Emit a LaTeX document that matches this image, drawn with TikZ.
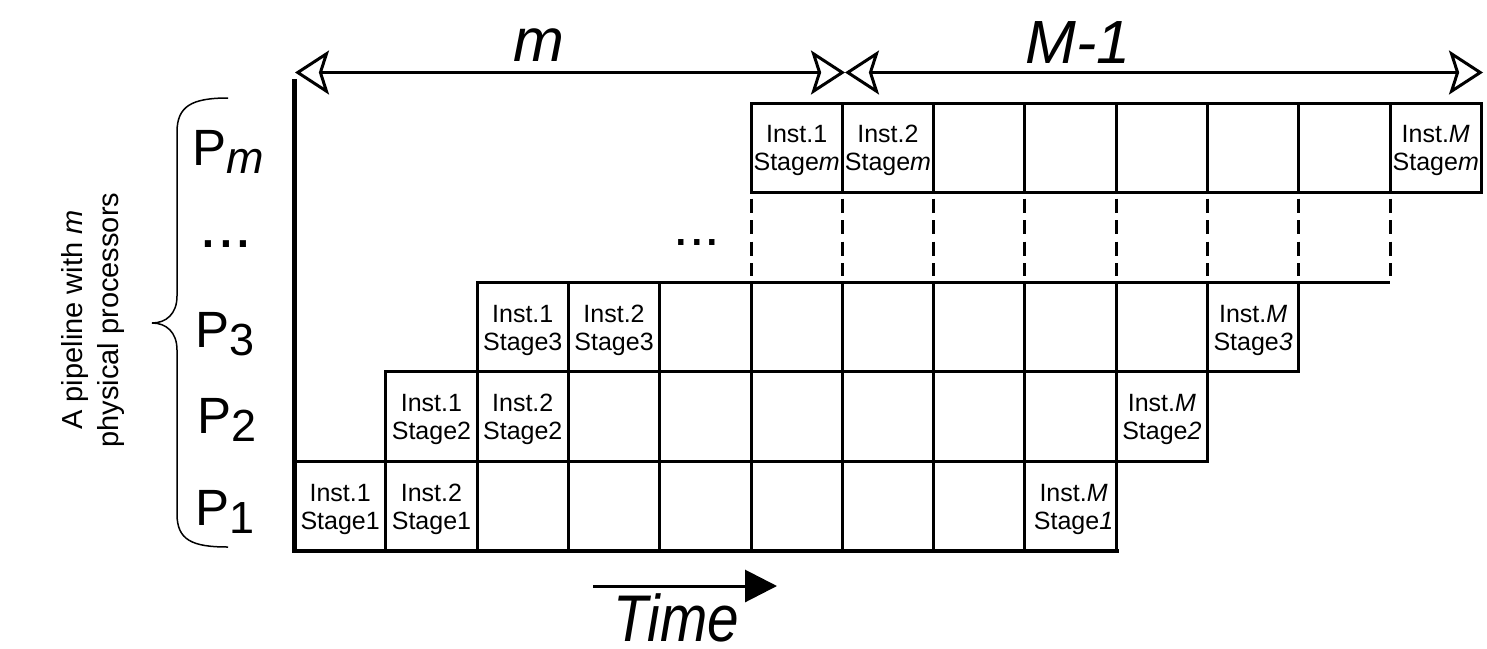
\documentclass[tikz,border=0pt]{standalone}
\usepackage{fontspec}
\setmainfont{Liberation Sans}
\usetikzlibrary{arrows.meta}
\tikzset{
  cellbox/.style={draw, line width=3pt, minimum width=91.3pt, minimum height=89.6pt, inner sep=0pt, outer sep=0pt},
  celltext/.style={font=\fontsize{25}{28}\selectfont, align=center, inner sep=0pt},
  gridline/.style={line width=3pt},
  dashline/.style={line width=3pt, dash pattern=on 14pt off 7.5pt, shorten <=6pt, shorten >=6pt},
  axisline/.style={line width=4.5pt, line join=miter},
  dimtip/.style={Stealth[open, length=34pt, width=44pt, inset=7pt, line width=3pt]},
  dimarrow/.style={line width=3pt, {Stealth[open, length=34pt, width=44pt, inset=7pt]}-{Stealth[open, length=34pt, width=44pt, inset=7pt]}},
  timearrow/.style={line width=3pt, -{Triangle[length=32pt, width=32pt]}},
  plabel/.style={font=\fontsize{51}{51}\selectfont, anchor=base west, inner sep=0pt},
  biglabel/.style={font=\fontsize{61}{61}\selectfont\itshape, anchor=base, inner sep=0pt},
  bracestyle/.style={line width=1.5pt}
}
\newcommand{\psub}[1]{\raisebox{-8pt}{\fontsize{45}{45}\selectfont #1}}
\begin{document}
\begin{tikzpicture}[x=1pt, y=-1pt]
\useasboundingbox (0,0) rectangle (1487,648);
% ---- cells ----
\foreach \c in {0,...,8} \node[cellbox] (c1-\c) at ({340.15+91.3*\c},506.2) {};
\foreach \c in {1,...,9} \node[cellbox] (c2-\c) at ({340.15+91.3*\c},416.6) {};
\foreach \c in {2,...,10} \node[cellbox] (c3-\c) at ({340.15+91.3*\c},327) {};
\foreach \c in {5,...,12} \node[cellbox] (cm-\c) at ({340.15+91.3*\c},147.8) {};
% extra top edge of dashed row
\draw[gridline] (c3-10.north east) -- (cm-12.south west |- c3-10.north east);
% dashed verticals
\foreach \c in {5,...,12} \draw[dashline] (cm-\c.south west) -- (cm-\c.south west |- c3-10.north);
% ---- cell texts ----
\node[celltext] (t1-0) at ([yshift=-3pt]c1-0.center) {Inst.1\\Stage1};
\node[celltext] (t1-1) at ([yshift=-3pt]c1-1.center) {Inst.2\\Stage1};
\node[celltext] (t1-8) at ([yshift=-3pt,xshift=3pt]c1-8.center) {Inst.\textit{M}\\Stage\textit{1}};
\node[celltext] (t2-1) at ([yshift=-3pt]c2-1.center) {Inst.1\\Stage2};
\node[celltext] (t2-2) at ([yshift=-3pt]c2-2.center) {Inst.2\\Stage2};
\node[celltext] (t2-9) at ([yshift=-3pt]c2-9.center) {Inst.\textit{M}\\Stage\textit{2}};
\node[celltext] (t3-2) at ([yshift=-3pt]c3-2.center) {Inst.1\\Stage3};
\node[celltext] (t3-3) at ([yshift=-3pt]c3-3.center) {Inst.2\\Stage3};
\node[celltext] (t3-10) at ([yshift=-3pt]c3-10.center) {Inst.\textit{M}\\Stage\textit{3}};
\node[celltext] (tm-5) at ([yshift=-3pt]cm-5.center) {Inst.1\\Stage\textit{m}};
\node[celltext] (tm-6) at ([yshift=-3pt]cm-6.center) {Inst.2\\Stage\textit{m}};
\node[celltext] (tm-12) at ([yshift=-3pt]cm-12.center) {Inst.\textit{M}\\Stage\textit{m}};
% grid dots
\node[font=\fontsize{56}{56}\selectfont, anchor=base, inner sep=0pt] (gdots) at (697,245) {...};
% ---- axes ----
\coordinate (ytop) at (294.5,79);
\coordinate (orig) at (294.5,551);
\coordinate (xend) at (1119,551);
\draw[axisline] (ytop) -- (orig) -- (xend);
% ---- top dimension arrows ----
\coordinate (aL) at (295,72.5);
\coordinate (aM) at (845,72.5);
\coordinate (aR) at (1483,72.5);
\draw[dimarrow] (aL) -- (aM);
\draw[dimarrow] (aM) -- (aR);
\node[biglabel] (lm) at (539,61) {m};
\node[biglabel] (lM) at (1078,63) {M-1};
% ---- time arrow ----
\coordinate (tA) at (593,586);
\coordinate (tB) at (777,586);
\draw[timearrow] (tA) -- (tB);
\node[font=\fontsize{66}{66}\selectfont\itshape, anchor=base, inner sep=0pt] (time) at (676,641) {\scalebox{0.86}[1]{Time}};
% ---- processor labels ----
\node[plabel] (pm) at (192,165) {P\psub{\textit{m}}};
\node[font=\fontsize{64}{64}\selectfont, anchor=base, inner sep=0pt] (pdots) at (226,247) {...};
\node[plabel] (p3) at (195,347) {P\psub{3}};
\node[plabel] (p2) at (197,433) {P\psub{2}};
\node[plabel] (p1) at (195,525) {P\psub{1}};
% ---- brace ----
\coordinate (bTop) at (228,98);
\coordinate (bTip) at (152,323);
\coordinate (bBot) at (228,547);
\draw[bracestyle] (bTop) .. controls (192,98) and (177,106) .. (177,132) -- (177,296)
  .. controls (177,314) and (166,323) .. (bTip)
  .. controls (166,323) and (177,332) .. (177,350) -- (177,514)
  .. controls (177,540) and (192,547) .. (bBot);
\node[rotate=90, align=center, font=\fontsize{29}{36}\selectfont, inner sep=0pt] (cap) at (93,320) {A pipeline with \textit{m}\\physical processors};
\end{tikzpicture}
\end{document}
